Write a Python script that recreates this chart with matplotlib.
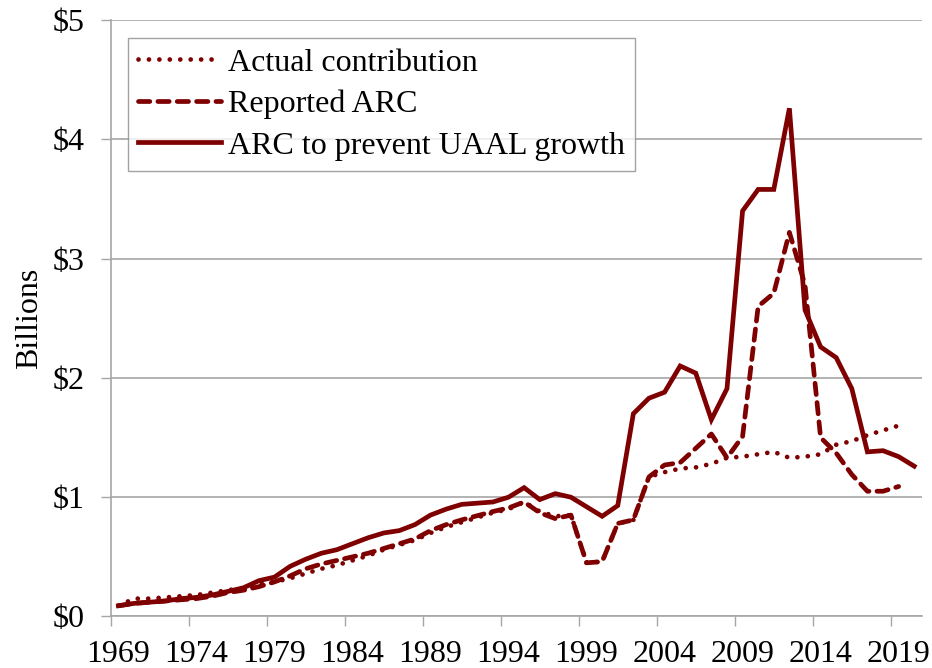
import matplotlib.pyplot as plt

plt.rcParams['font.family'] = ['Liberation Serif', 'DejaVu Serif']

# Données (milliards de dollars)
years_actual = list(range(1969, 2020))
actual = [0.09, 0.15, 0.15, 0.16, 0.17, 0.18, 0.20, 0.22, 0.24, 0.27,
          0.29, 0.32, 0.36, 0.40, 0.43, 0.47, 0.51, 0.56, 0.60, 0.64,
          0.70, 0.75, 0.79, 0.83, 0.87, 0.90, 0.96, 0.88, 0.84, 0.85,
          0.45, 0.46, 0.78, 0.81, 1.17, 1.21, 1.24, 1.25, 1.28, 1.33,
          1.34, 1.36, 1.38, 1.33, 1.34, 1.36, 1.44, 1.47, 1.52, 1.56,
          1.60]

years_reported = list(range(1969, 2020))
reported = [0.09, 0.11, 0.12, 0.13, 0.14, 0.15, 0.17, 0.20, 0.22, 0.25,
            0.29, 0.34, 0.40, 0.44, 0.47, 0.50, 0.53, 0.57, 0.61, 0.65,
            0.72, 0.77, 0.81, 0.845, 0.88, 0.91, 0.96, 0.87, 0.82, 0.85,
            0.45, 0.46, 0.78, 0.81, 1.17, 1.27, 1.29, 1.41, 1.53, 1.33,
            1.51, 2.60, 2.71, 3.22, 2.78, 1.50, 1.37, 1.19, 1.05, 1.05,
            1.09]

years_uaal = list(range(1969, 2021))
uaal = [0.09, 0.11, 0.12, 0.13, 0.15, 0.16, 0.18, 0.21, 0.24, 0.30,
        0.33, 0.42, 0.48, 0.53, 0.56, 0.61, 0.66, 0.70, 0.72, 0.77,
        0.85, 0.90, 0.94, 0.95, 0.96, 1.00, 1.08, 0.98, 1.03, 1.00,
        0.92, 0.84, 0.93, 1.70, 1.83, 1.88, 2.10, 2.04, 1.65, 1.91,
        3.40, 3.58, 3.58, 4.26, 2.57, 2.26, 2.17, 1.91, 1.38, 1.39,
        1.34, 1.26]

tick_years = list(range(1969, 2020, 5))
y_ticks = [0, 1, 2, 3, 4, 5]
y_labels = ['$0', '$1', '$2', '$3', '$4', '$5']

color = '#7f0000'
grey = '#a6a6a6'
fs = 23

fig = plt.figure(figsize=(9.32, 6.68), dpi=100)
ax = fig.add_axes([0.1187, 0.0771, 0.8706, 0.8929])

ax.plot(years_actual, actual, color=color, lw=3.4, linestyle=(0, (0.01, 2.2)),
        dash_capstyle='round', label='Actual contribution')
ax.plot(years_reported, reported, color=color, lw=3.4, linestyle=(0, (2.4, 1.7)),
        dash_capstyle='round', label='Reported ARC')
ax.plot(years_uaal, uaal, color=color, lw=3.4, solid_joinstyle='miter',
        label='ARC to prevent UAAL growth')

ax.set_xlim(1968.5, 2020.5)
ax.set_ylim(0, 5)

# graduations entre les catégories, étiquettes centrées sur l'année
ax.set_xticks([y - 0.5 for y in tick_years])
ax.set_xticklabels([])
ax.set_xticks(tick_years, minor=True)
ax.set_xticklabels([str(y) for y in tick_years], minor=True)
ax.tick_params(axis='x', which='major', direction='out', length=7, width=1, color=grey)
ax.tick_params(axis='x', which='minor', length=0, pad=17, labelsize=fs)

ax.set_yticks(y_ticks)
ax.set_yticklabels(y_labels)
ax.tick_params(axis='y', direction='out', length=7, width=1, color=grey,
               pad=12, labelsize=fs)

ax.grid(axis='y', color=grey, lw=1.2)
ax.set_axisbelow(True)
for s in ['top', 'right']:
    ax.spines[s].set_visible(False)
for s in ['left', 'bottom']:
    ax.spines[s].set_color(grey)
    ax.spines[s].set_linewidth(1.2)

ax.set_ylabel('Billions', fontsize=fs, labelpad=6)

leg = ax.legend(loc='upper left', bbox_to_anchor=(0.0214, 0.970), borderaxespad=0,
                fontsize=fs, frameon=True, fancybox=False, handlelength=2.6,
                handletextpad=0.2, labelspacing=0.38, borderpad=0.32)
leg.get_frame().set_edgecolor('#8c8c8c')
leg.get_frame().set_linewidth(1.0)

fig.savefig('out.png', dpi=100)
